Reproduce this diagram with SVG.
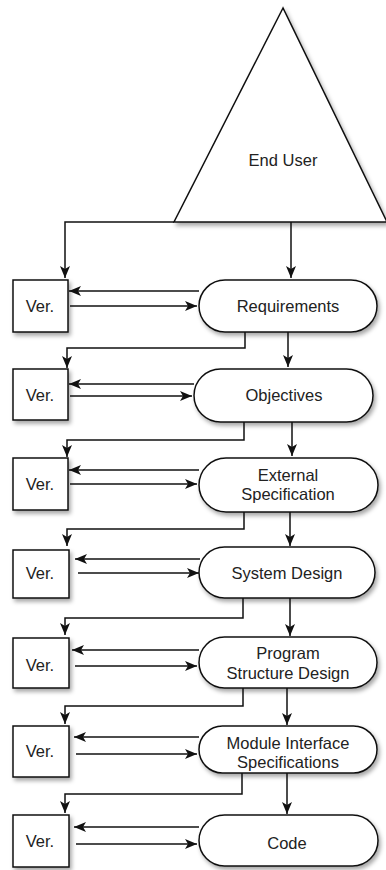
<svg xmlns="http://www.w3.org/2000/svg" width="386" height="870" viewBox="0 0 386 870">
<defs>
<style>
.shape{fill:#fff;stroke:#111;stroke-width:1.5;filter:url(#sh)}
.lbl{font-family:"Liberation Sans",Arial,sans-serif;font-size:16.5px;fill:#222;text-anchor:middle}
.c{fill:none;stroke:#111;stroke-width:1.5;marker-end:url(#ah)}
</style>
<filter id="sh" x="-20%" y="-20%" width="150%" height="150%">
<feDropShadow dx="2" dy="3" stdDeviation="2" flood-color="#000" flood-opacity="0.35"/>
</filter>
<marker id="ah" viewBox="0 0 12 10" refX="12" refY="5" markerWidth="12" markerHeight="10" markerUnits="userSpaceOnUse" orient="auto">
<path d="M0,0 L12,5 L0,10 L3,5 z" fill="#111"/>
</marker>
</defs>
<rect width="386" height="870" fill="#fff"/>

<g id="end-user">
<polygon class="shape" points="283,8 174,222 387,222"/>
<text class="lbl" x="283" y="166">End User</text>
</g>

<g id="requirements">
<rect class="shape" x="199" y="280" width="178" height="52" rx="26"/>
<text class="lbl" x="288" y="312">Requirements</text>
</g>
<g id="ver1">
<rect class="shape" x="13" y="280" width="55" height="52"/>
<text class="lbl" x="40" y="312">Ver.</text>
</g>

<g id="objectives">
<rect class="shape" x="194" y="369" width="179" height="53" rx="26.5"/>
<text class="lbl" x="284" y="401">Objectives</text>
</g>
<g id="ver2">
<rect class="shape" x="13" y="369" width="55" height="51"/>
<text class="lbl" x="40" y="401">Ver.</text>
</g>

<g id="external-spec">
<rect class="shape" x="199" y="458" width="179" height="54" rx="27"/>
<text class="lbl" x="288" y="481">External</text>
<text class="lbl" x="288" y="500">Specification</text>
</g>
<g id="ver3">
<rect class="shape" x="13" y="458" width="55" height="52"/>
<text class="lbl" x="40" y="490">Ver.</text>
</g>

<g id="system-design">
<rect class="shape" x="199" y="547" width="176" height="51" rx="25.5"/>
<text class="lbl" x="287" y="579">System Design</text>
</g>
<g id="ver4">
<rect class="shape" x="13" y="550" width="56" height="48"/>
<text class="lbl" x="40" y="579">Ver.</text>
</g>

<g id="program-structure">
<rect class="shape" x="199" y="637" width="178" height="51" rx="25.5"/>
<text class="lbl" x="288" y="659">Program</text>
<text class="lbl" x="288" y="679">Structure Design</text>
</g>
<g id="ver5">
<rect class="shape" x="13" y="638" width="56" height="50"/>
<text class="lbl" x="40" y="671">Ver.</text>
</g>

<g id="module-interface">
<rect class="shape" x="199" y="726" width="178" height="47" rx="23.5"/>
<text class="lbl" x="288" y="749">Module Interface</text>
<text class="lbl" x="288" y="768">Specifications</text>
</g>
<g id="ver6">
<rect class="shape" x="13" y="726" width="56" height="51"/>
<text class="lbl" x="40" y="757">Ver.</text>
</g>

<g id="code">
<rect class="shape" x="199" y="815" width="179" height="51" rx="25.5"/>
<text class="lbl" x="287" y="849">Code</text>
</g>
<g id="ver7">
<rect class="shape" x="13" y="815" width="56" height="52"/>
<text class="lbl" x="40" y="847">Ver.</text>
</g>

<g id="connectors">
<path class="c" d="M174,222 H65 V278"/>
<path class="c" d="M291,222 V278"/>

<path class="c" d="M199,291 H69"/>
<path class="c" d="M70,306 H197"/>
<path class="c" d="M245,332 V348 H67 V368"/>
<path class="c" d="M288,332 V367"/>

<path class="c" d="M194,384 H69"/>
<path class="c" d="M70,396 H192"/>
<path class="c" d="M244,422 V440 H67 V457"/>
<path class="c" d="M292,422 V456"/>

<path class="c" d="M199,470 H69"/>
<path class="c" d="M70,484 H197"/>
<path class="c" d="M244,512 V529 H67 V546"/>
<path class="c" d="M290,512 V546"/>

<path class="c" d="M200,559 H75"/>
<path class="c" d="M78,573 H199"/>
<path class="c" d="M243,598 V618 H65 V635"/>
<path class="c" d="M290,598 V636"/>

<path class="c" d="M199,650 H72"/>
<path class="c" d="M75,666 H197"/>
<path class="c" d="M243,688 V706 H65 V724"/>
<path class="c" d="M287,688 V725"/>

<path class="c" d="M199,737 H74"/>
<path class="c" d="M76,754 H197"/>
<path class="c" d="M242,773 V794 H65 V813"/>
<path class="c" d="M287,773 V814"/>

<path class="c" d="M199,827 H74"/>
<path class="c" d="M76,844 H197"/>
</g>
</svg>
